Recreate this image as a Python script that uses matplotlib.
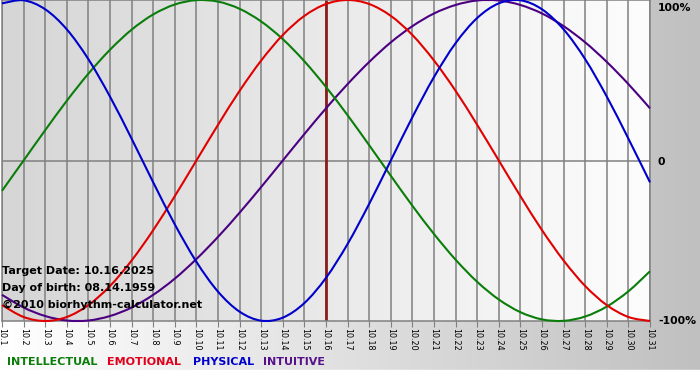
import numpy as np
import matplotlib
matplotlib.use("Agg")
import matplotlib.pyplot as plt
from matplotlib.path import Path
from matplotlib.patches import PathPatch

# Biorhythm values (%) for each day of October 2025
days = list(range(1, 32))
day_labels = ["10.%d" % d for d in days]

physical = [97.9, 99.8, 94.2, 81.7, 63.1, 39.8, 13.6, -13.6, -39.8, -63.1,
            -81.7, -94.2, -99.8, -97.9, -88.8, -73.1, -52.0, -27.0, 0.0, 27.0,
            52.0, 73.1, 88.8, 97.9, 99.8, 94.2, 81.7, 63.1, 39.8, 13.6, -13.6]
emotional = [-90.1, -97.5, -100.0, -97.5, -90.1, -78.2, -62.3, -43.4, -22.2, 0.0,
             22.2, 43.4, 62.3, 78.2, 90.1, 97.5, 100.0, 97.5, 90.1, 78.2,
             62.3, 43.4, 22.2, 0.0, -22.2, -43.4, -62.3, -78.2, -90.1, -97.5, -100.0]
intellectual = [-18.9, 0.0, 18.9, 37.2, 54.1, 69.0, 81.5, 91.0, 97.2, 99.9,
                99.0, 94.5, 86.6, 75.6, 61.8, 45.8, 28.2, 9.5, -9.5, -28.2,
                -45.8, -61.8, -75.6, -86.6, -94.5, -99.0, -99.9, -97.2, -91.0, -81.5, -69.0]
intuitive = [-83.7, -91.6, -96.9, -99.7, -99.7, -96.9, -91.6, -83.7, -73.6, -61.4,
             -47.6, -32.5, -16.5, 0.0, 16.5, 32.5, 47.6, 61.4, 73.6, 83.7,
             91.6, 96.9, 99.7, 99.7, 96.9, 91.6, 83.7, 73.6, 61.4, 47.6, 32.5]

target_day = 16
info_lines = ["Target Date: 10.16.2025", "Day of birth: 08.14.1959",
              "\u00a92010 biorhythm-calculator.net"]
legend_names = ["INTELLECTUAL", "EMOTIONAL", "PHYSICAL", "INTUITIVE"]
legend_colors = ["#0b7d0b", "#e0001b", "#0000cc", "#55128a"]

W, H = 700, 380


def smooth_curve(ax, xs, ys, color):
    # draw the daily values as a smooth bezier path (catmull-rom style)
    x = np.asarray(xs, float)
    y = np.asarray(ys, float)
    verts = [(x[0], y[0])]
    codes = [Path.MOVETO]
    n = len(x)
    for i in range(n - 1):
        x0, y0 = (x[i - 1], y[i - 1]) if i > 0 else (x[i], y[i])
        x3, y3 = (x[i + 2], y[i + 2]) if i + 2 < n else (x[i + 1], y[i + 1])
        c1 = (x[i] + (x[i + 1] - x0) / 6, y[i] + (y[i + 1] - y0) / 6)
        c2 = (x[i + 1] - (x3 - x[i]) / 6, y[i + 1] - (y3 - y[i]) / 6)
        verts += [c1, c2, (x[i + 1], y[i + 1])]
        codes += [Path.CURVE4] * 3
    ax.add_patch(PathPatch(Path(verts, codes), fill=False, edgecolor=color,
                           lw=1.5, zorder=3, clip_on=False))


fig = plt.figure(figsize=(7, 3.8), dpi=100)

# outer background: white -> gray gradient, white strip at the bottom
bg = fig.add_axes([0, 0, 1, 1], zorder=-10)
grad = np.linspace(0, 1, 256).reshape(1, -1)
bg.imshow(grad, cmap=matplotlib.colors.LinearSegmentedColormap.from_list(
    "o", ["#ffffff", "#c0c0c0"]), aspect="auto", extent=[0, W, 10, H])
bg.axhspan(0, 10, color="white")
bg.set_xlim(0, W)
bg.set_ylim(0, H)
bg.axis("off")

ax = fig.add_axes([2 / W, 59 / H, 648 / W, 321 / H])
ax.imshow(grad, cmap=matplotlib.colors.LinearSegmentedColormap.from_list(
    "i", ["#d6d6d6", "#fdfdfd"]), aspect="auto", extent=[1, 31, -100, 100], zorder=0)

for d in days:
    ax.axvline(d, color="#808080", lw=1.1, zorder=1)
ax.axhline(0, color="#808080", lw=1.1, zorder=1)
ax.axvline(target_day, color="#8b1c1c", lw=2, zorder=2)

smooth_curve(ax, days, intuitive, "#4b0082")
smooth_curve(ax, days, intellectual, "#0a7d0a")
smooth_curve(ax, days, emotional, "#e00000")
smooth_curve(ax, days, physical, "#0000cc")

ax.set_xlim(1, 31)
ax.set_ylim(-100, 100)
ax.set_xticks(days)
ax.set_xticklabels(day_labels, rotation=-90, fontsize=5.8, va="top", ha="center")
ax.tick_params(axis="x", length=4, color="#808080", pad=1)
ax.set_yticks([])
for s in ax.spines.values():
    s.set_color("#808080")
    s.set_linewidth(1.1)

# right side labels
for ypix, lab in [(8, "100%"), (162, "0"), (321, "-100%")]:
    fig.text(658 / W, 1 - ypix / H, lab, fontsize=7.8, fontweight="bold",
             va="center", ha="left")

# info text in lower-left
for i, t in enumerate(info_lines):
    fig.text(2 / W, 1 - (271 + i * 17) / H, t, fontsize=8, fontweight="bold",
             va="center", ha="left", color="black")

# colored legend words
xs = [7, 107, 193, 263]
for x, name, c in zip(xs, legend_names, legend_colors):
    fig.text(x / W, 1 - 362 / H, name, fontsize=8, fontweight="bold",
             color=c, va="center", ha="left")

fig.savefig("out.png", dpi=100)
